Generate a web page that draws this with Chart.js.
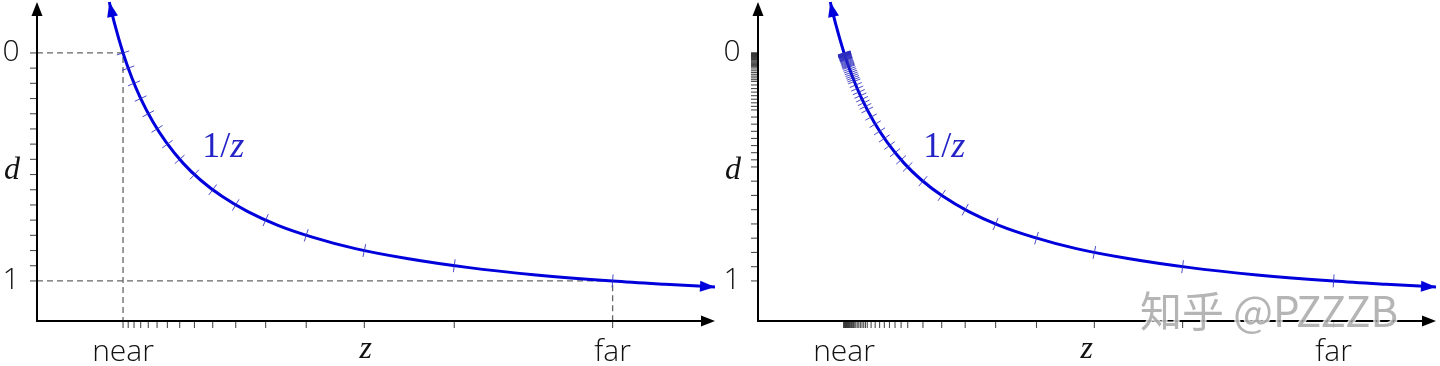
<!DOCTYPE html>
<html>
<head>
<meta charset="utf-8">
<script src="https://cdn.jsdelivr.net/npm/chart.js@4"></script>
<style>
  body { margin: 0; background: #fff; }
  .panel { position: absolute; top: 0; }
</style>
</head>
<body>
<canvas id="left-chart" class="panel" width="720" height="366" style="left:0"></canvas>
<canvas id="right-chart" class="panel" width="720" height="366" style="left:721px"></canvas>
<script>
// z is measured from the vertical axis, near plane = 1
const nearZ = 1;
const farZ = 6.69;
const axisMaxZ = 7.88;
const axisMaxInv = 1.19;

// the 1/z curve
const curveZ = [0.84, 0.9, 1, 1.1, 1.2, 1.35, 1.5, 1.7, 1.9, 2.15, 2.45, 2.8, 3.2, 3.7, 4.3, 5, 5.8, 6.69, 7.3, 7.88];
const curveInv = [1.19, 1.111, 1, 0.909, 0.833, 0.741, 0.667, 0.588, 0.526, 0.465, 0.408, 0.357, 0.313, 0.27, 0.233, 0.2, 0.172, 0.149, 0.137, 0.127];

// depth values that get a tick (left: fixed point, right: floating point)
const leftDepthTicks = [0, 0.0667, 0.1333, 0.2, 0.2667, 0.3333, 0.4, 0.4667, 0.5333, 0.6, 0.6667, 0.7333, 0.8, 0.8667, 0.9333, 1];
const rightDepthTicks = [
  0, 0.001, 0.002, 0.003,
  0.0039, 0.0044, 0.0049, 0.0054, 0.0059, 0.0063, 0.0068, 0.0073,
  0.0078, 0.0088, 0.0098, 0.0107, 0.0117, 0.0127, 0.0137, 0.0146,
  0.0156, 0.0176, 0.0195, 0.0215, 0.0234, 0.0254, 0.0273, 0.0293,
  0.0313, 0.0352, 0.0391, 0.043, 0.0469, 0.0508, 0.0547, 0.0586,
  0.0625, 0.0703, 0.0781, 0.0859, 0.0938, 0.1016, 0.1094, 0.1172,
  0.125, 0.1406, 0.1563, 0.1719, 0.1875, 0.2031, 0.2188, 0.2344,
  0.25, 0.2813, 0.3125, 0.3438, 0.375, 0.4063, 0.4375, 0.4688,
  0.5, 0.5625, 0.625, 0.6875, 0.75, 0.8125, 0.875, 0.9375, 1
];

const axisLabels = { top: '0', bottom: '1', y: 'd', x: 'z', near: 'near', far: 'far', curve: '1/z' };
const watermark = '知乎 @PZZZB';

const curveColor = '#0000dc';
const markColor = 'rgba(45, 45, 190, 0.85)';
const tickColor = 'rgba(60, 60, 60, 0.9)';

// depth d in [0,1] -> value of 1/z
function depthToInv(d) {
  return 1 / nearZ - d * (1 / nearZ - 1 / farZ);
}

function arrowHead(ctx, x, y, ux, uy, len, half, color) {
  ctx.save();
  ctx.fillStyle = color;
  ctx.beginPath();
  ctx.moveTo(x, y);
  ctx.lineTo(x - ux * len - uy * half, y - uy * len + ux * half);
  ctx.lineTo(x - ux * len + uy * half, y - uy * len - ux * half);
  ctx.closePath();
  ctx.fill();
  ctx.restore();
}

// pixel tangent of the curve at (z, 1/z), pointing towards larger z
function tangent(xs, ys, z, v) {
  const dz = 0.001;
  const dx = xs.getPixelForValue(z + dz) - xs.getPixelForValue(z);
  const dy = ys.getPixelForValue(v - v * v * dz) - ys.getPixelForValue(v);
  const l = Math.hypot(dx, dy);
  return [dx / l, dy / l];
}

const diagramPlugin = {
  id: 'diagram',
  beforeDatasetsDraw(chart, args, opts) {
    const ctx = chart.ctx;
    const xs = chart.scales.x;
    const ys = chart.scales.y;
    const x0 = xs.getPixelForValue(0);
    const y0 = ys.getPixelForValue(0);
    const xEnd = xs.getPixelForValue(axisMaxZ);
    const yEnd = ys.getPixelForValue(axisMaxInv);

    ctx.save();
    // dashed guides for near / far
    if (opts.guides) {
      const xn = xs.getPixelForValue(nearZ);
      const xf = xs.getPixelForValue(farZ);
      const yn = ys.getPixelForValue(1 / nearZ);
      const yf = ys.getPixelForValue(1 / farZ);
      ctx.strokeStyle = '#666';
      ctx.lineWidth = 1.3;
      ctx.setLineDash([6, 4]);
      ctx.beginPath();
      ctx.moveTo(x0, yn); ctx.lineTo(xn, yn); ctx.lineTo(xn, y0);
      ctx.moveTo(x0, yf); ctx.lineTo(xf, yf); ctx.lineTo(xf, y0);
      ctx.stroke();
      ctx.setLineDash([]);
    }

    // ticks on both axes
    ctx.strokeStyle = tickColor;
    ctx.lineWidth = 1.1;
    opts.depthTicks.forEach(d => {
      const v = depthToInv(d);
      const py = ys.getPixelForValue(v);
      const px = xs.getPixelForValue(1 / v);
      ctx.beginPath();
      ctx.moveTo(x0 - 7, py); ctx.lineTo(x0, py);
      ctx.stroke();
      ctx.beginPath();
      ctx.moveTo(px, y0); ctx.lineTo(px, y0 + 7);
      ctx.stroke();
    });

    // axes with arrows
    ctx.strokeStyle = '#000';
    ctx.lineWidth = 2;
    ctx.beginPath();
    ctx.moveTo(x0, yEnd + 8); ctx.lineTo(x0, y0); ctx.lineTo(xEnd - 8, y0);
    ctx.stroke();
    arrowHead(ctx, x0, yEnd, 0, -1, 14, 5.5, '#000');
    arrowHead(ctx, xEnd, y0, 1, 0, 14, 5.5, '#000');
    ctx.restore();
  },
  afterDatasetsDraw(chart, args, opts) {
    const ctx = chart.ctx;
    const xs = chart.scales.x;
    const ys = chart.scales.y;
    ctx.save();

    // depth marks across the curve
    ctx.strokeStyle = markColor;
    ctx.lineWidth = 1;
    ctx.beginPath();
    opts.depthTicks.forEach(d => {
      const v = depthToInv(d);
      const z = 1 / v;
      const px = xs.getPixelForValue(z);
      const py = ys.getPixelForValue(v);
      const [tx, ty] = tangent(xs, ys, z, v);
      const nx = -ty, ny = tx;
      ctx.moveTo(px - nx * 6.5, py - ny * 6.5);
      ctx.lineTo(px + nx * 6.5, py + ny * 6.5);
    });
    ctx.stroke();

    // arrows at both ends of the curve
    const n = curveZ.length;
    const t0 = tangent(xs, ys, curveZ[0], curveInv[0]);
    arrowHead(ctx, xs.getPixelForValue(curveZ[0]), ys.getPixelForValue(curveInv[0]), -t0[0], -t0[1], 15, 5.5, curveColor);
    const t1 = tangent(xs, ys, curveZ[n - 1], curveInv[n - 1]);
    arrowHead(ctx, xs.getPixelForValue(curveZ[n - 1]), ys.getPixelForValue(curveInv[n - 1]), t1[0], t1[1], 15, 5.5, curveColor);

    // labels
    const x0 = xs.getPixelForValue(0);
    const y0 = ys.getPixelForValue(0);
    ctx.textAlign = 'center';
    ctx.textBaseline = 'middle';
    ctx.fillStyle = '#111';
    ctx.font = '300 30px "Open Sans"';
    ctx.fillText(axisLabels.top, x0 - 26, ys.getPixelForValue(1 / nearZ));
    ctx.fillText(axisLabels.bottom, x0 - 26, ys.getPixelForValue(1 / farZ));
    ctx.fillText(axisLabels.near, xs.getPixelForValue(nearZ), y0 + 31);
    ctx.fillText(axisLabels.far, xs.getPixelForValue(farZ), y0 + 31);

    ctx.font = 'italic 32px "Liberation Serif"';
    ctx.fillText(axisLabels.y, x0 - 25, ys.getPixelForValue(0.56));
    ctx.fillText(axisLabels.x, xs.getPixelForValue(3.82), y0 + 29);

    // 1/z label, blue
    ctx.fillStyle = '#2323c8';
    ctx.textAlign = 'left';
    const lx = xs.getPixelForValue(1.92);
    const ly = ys.getPixelForValue(0.648);
    ctx.font = '36px "Liberation Serif"';
    ctx.fillText('1/', lx, ly);
    const w = ctx.measureText('1/').width;
    ctx.font = 'italic 36px "Liberation Serif"';
    ctx.fillText('z', lx + w, ly);

    if (opts.watermark) {
      ctx.font = '42px "Noto Sans CJK SC"';
      ctx.textAlign = 'center';
      ctx.lineWidth = 3;
      ctx.strokeStyle = 'rgba(255,255,255,0.8)';
      ctx.strokeText(watermark, 548, 311);
      ctx.fillStyle = 'rgba(150,150,150,0.7)';
      ctx.fillText(watermark, 548, 311);
    }
    ctx.restore();
  }
};

function buildPanel(canvasId, depthTicks, guides, mark) {
  const points = curveZ.map((z, i) => ({ x: z, y: curveInv[i] }));
  return new Chart(document.getElementById(canvasId).getContext('2d'), {
    type: 'line',
    data: {
      datasets: [{
        data: points,
        borderColor: curveColor,
        borderWidth: 3,
        pointRadius: 0,
        cubicInterpolationMode: 'monotone',
        fill: false,
        clip: false
      }]
    },
    options: {
      responsive: false,
      animation: false,
      events: [],
      layout: { padding: { left: 37, right: 5, top: 2, bottom: 45 } },
      scales: {
        x: { type: 'linear', min: 0, max: axisMaxZ, display: false },
        y: { type: 'linear', min: 0, max: axisMaxInv, display: false }
      },
      plugins: {
        legend: { display: false },
        tooltip: { enabled: false },
        diagram: { depthTicks: depthTicks, guides: guides, watermark: mark }
      }
    },
    plugins: [diagramPlugin]
  });
}

buildPanel('left-chart', leftDepthTicks, true, false);
buildPanel('right-chart', rightDepthTicks, false, true);
</script>
</body>
</html>
